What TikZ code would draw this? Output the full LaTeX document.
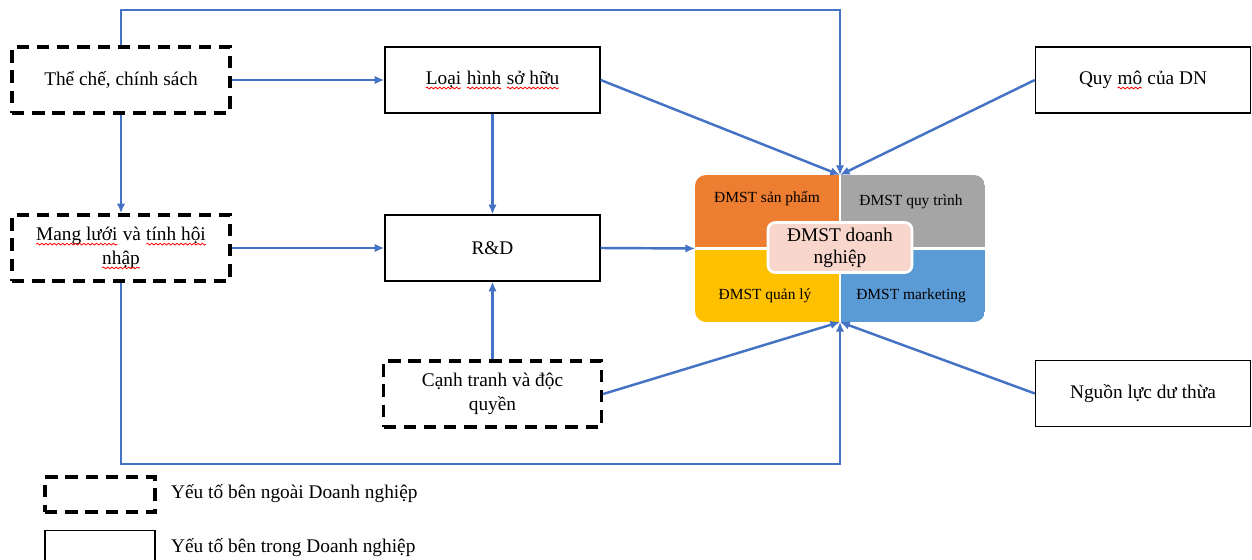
\documentclass[tikz,border=0pt]{standalone}
\usepackage{fontspec}
\setmainfont{Liberation Serif}
\usetikzlibrary{arrows.meta,decorations.pathmorphing}
\definecolor{linkblue}{HTML}{4472C4}
\definecolor{qorange}{HTML}{ED7D31}
\definecolor{qgray}{HTML}{A5A5A5}
\definecolor{qyellow}{HTML}{FFC000}
\definecolor{qblue}{HTML}{5B9BD5}
\definecolor{qpink}{HTML}{F8D6CC}
\newcommand\rw[1]{\tikz[baseline=(w.base),x=1pt,y=1pt]{\node[inner sep=0pt,outer sep=0pt,minimum width=0pt,minimum height=0pt,anchor=base,draw=none,fill=none] (w) at (0,0) {#1};\draw[red,solid,line width=0.45pt,decorate,decoration={snake,amplitude=0.5pt,segment length=2.4pt}] ([yshift=-2.2pt]w.base west) -- ([yshift=-2.2pt]w.base east);}}
\begin{document}
\begin{tikzpicture}[x=0.02cm,y=-0.02cm,
  txt/.style={font=\fontsize{11}{13.5}\selectfont, align=center},
  extbox/.style={txt, draw, line width=2pt, dash pattern=on 7pt off 4.5pt, minimum width=4.36cm, minimum height=1.32cm},
  intbox/.style={txt, draw, line width=0.8pt, minimum width=4.3cm, minimum height=1.32cm},
  quad/.style={font=\fontsize{8.8}{10}\selectfont},
  conn/.style={draw=linkblue, line width=1.4pt},
  arr/.style={conn, -{Latex[length=5.5pt,width=4.8pt]}}
]
\useasboundingbox (0,0) rectangle (1252,560);

% factor boxes
\node[extbox] (tc) at (121,80) {Thể chế, chính sách};
\node[intbox] (lh) at (492.5,80) {\rw{Loại} \rw{hình} \rw{sở hữu}};
\node[intbox] (qm) at (1143,80) {Quy \rw{mô} của DN};
\node[extbox] (ml) at (121,248) {\rw{Mang lưới} và \rw{tính hội}\\[0pt]\rw{nhập}};
\node[intbox] (rd) at (492.5,248) {R\&D};
\node[extbox] (ct) at (492.5,394) {Cạnh tranh và độc\\[0pt]quyền};
\node[intbox] (nl) at (1143,393.5) {Nguồn lực dư thừa};

% core block
\node[minimum width=5.8cm, minimum height=2.94cm, inner sep=0pt, outer sep=0pt] (core) at (840,248.5) {};
\begin{scope}
  \clip[rounded corners=0.22cm] (core.south west) rectangle (core.north east);
  \fill[qorange] (core.north west) rectangle (core.center);
  \fill[qgray] (core.north east) rectangle (core.center);
  \fill[qyellow] (core.south west) rectangle (core.center);
  \fill[qblue] (core.south east) rectangle (core.center);
\end{scope}
\draw[white, line width=1.3pt] (core.north) -- (core.south);
\draw[white, line width=1.3pt] (core.west) -- (core.east);
\node[quad] (q1) at (767,199) {ĐMST sản phẩm};
\node[quad] (q2) at (911,202) {ĐMST quy trình};
\node[quad] (q3) at (765,296) {ĐMST quản lý};
\node[quad] (q4) at (911,296) {ĐMST marketing};
\node[txt, fill=qpink, draw=white, line width=1.5pt, rounded corners=4pt, minimum width=2.88cm, minimum height=1cm, inner sep=1pt] (lbl) at (840,247.5) {ĐMST doanh\\[-1pt]nghiệp};

% connectors
\draw[arr] (tc.north) -- ++(0,-35) -| (core.north);
\draw[arr] (ml.south) -- ++(0,181) -| (core.south);
\draw[arr] (tc.east) -- (lh.west);
\draw[arr] (tc.south) -- (ml.north);
\draw[arr] (lh.south) -- (rd.north);
\draw[arr] (ml.east) -- (rd.west);
\draw[arr] (rd.east) -- (core.west);
\draw[arr] (ct.north) -- (rd.south);
\draw[arr] (lh.east) -- (core.north);
\draw[arr] (qm.west) -- (core.north);
\draw[arr] (ct.east) -- (core.south);
\draw[arr] (nl.west) -- (core.south);

% legend
\node[draw, line width=2pt, dash pattern=on 7pt off 4.5pt, minimum width=2.2cm, minimum height=0.7cm] (lgext) at (100,494.5) {};
\node[txt, anchor=west] (lgextt) at (165,494) {Yếu tố bên ngoài Doanh nghiệp};
\draw[line width=0.8pt] (45,562) -- (45,530.5) -- (155,530.5) -- (155,562);
\node[txt, anchor=west] (lgintt) at (165,548) {Yếu tố bên trong Doanh nghiệp};
\end{tikzpicture}
\end{document}
